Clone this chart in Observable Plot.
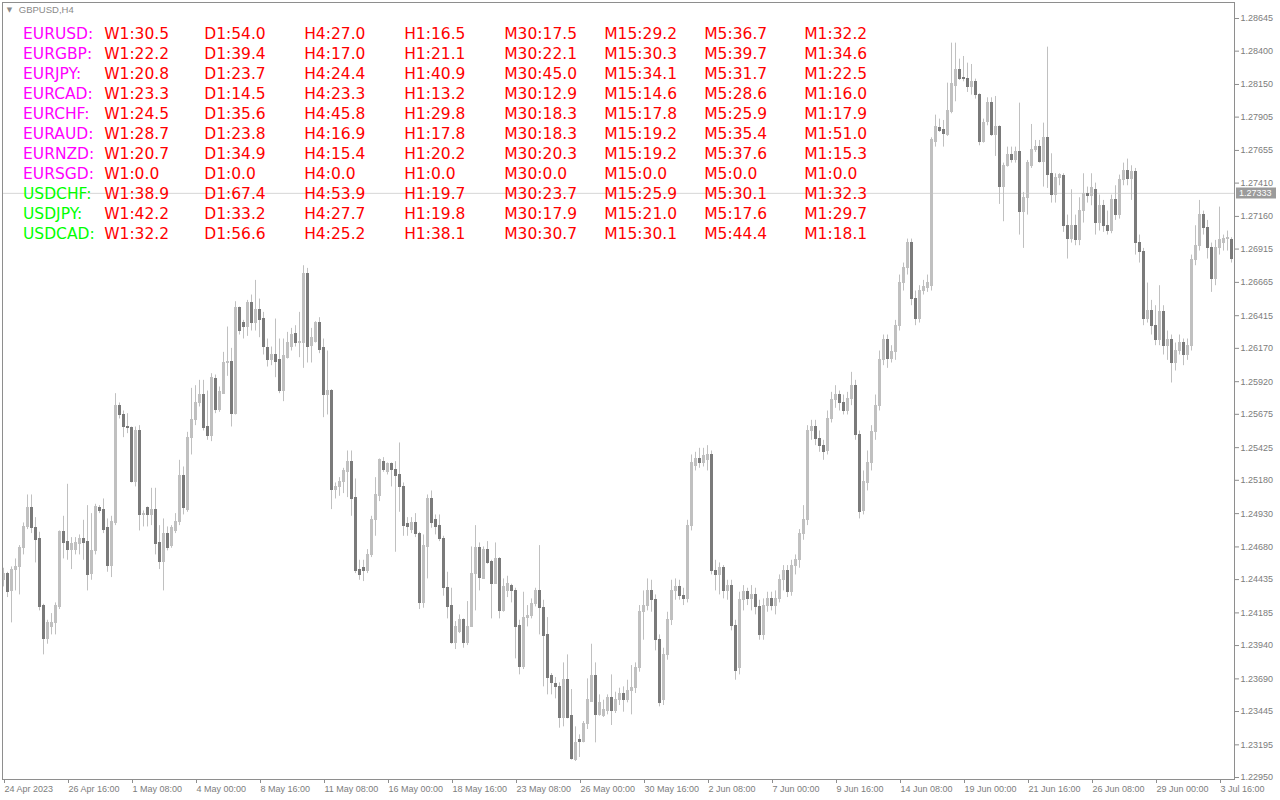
<!DOCTYPE html>
<html>
<head>
<meta charset="utf-8">
<script src="https://cdn.jsdelivr.net/npm/d3@7"></script>
<script src="https://cdn.jsdelivr.net/npm/@observablehq/plot@0.6"></script>
<style>
  html, body { margin: 0; padding: 0; background: #ffffff; }
  #chart { width: 1280px; height: 800px; position: relative; }
</style>
</head>
<body>
<div id="chart"></div>
<script>
// ---------- chart meta ----------
const symbolLabel = "GBPUSD,H4";
const lastPrice = 1.27333;
const xLabels = ["24 Apr 2023","26 Apr 16:00","1 May 08:00","4 May 00:00","8 May 16:00","11 May 08:00","16 May 00:00","18 May 16:00","23 May 08:00","26 May 00:00","30 May 16:00","2 Jun 08:00","7 Jun 00:00","9 Jun 16:00","14 Jun 08:00","19 Jun 00:00","21 Jun 16:00","26 Jun 08:00","29 Jun 00:00","3 Jul 16:00"];
const barsPerLabel = 16;
const yTicks = [1.28645,1.28400,1.28150,1.27905,1.27655,1.27410,1.27160,1.26915,1.26665,1.26415,1.26170,1.25920,1.25675,1.25425,1.25180,1.24930,1.24680,1.24435,1.24185,1.23940,1.23690,1.23445,1.23195,1.22950];

// ---------- candles (H4 bars) ----------
const open = [
1.2443,1.2448,1.2435,1.2451,1.2453,1.2467,1.2483,1.2497,1.2482,1.2474,
1.2424,1.2399,1.2408,1.2411,1.2423,1.2479,1.2472,1.2466,1.2466,1.2470,
1.2474,1.2472,1.2448,1.2465,1.2497,1.2496,1.2482,1.2454,1.2486,1.2574,
1.2567,1.2558,1.2557,1.2517,1.2555,1.2492,1.2497,1.2492,1.2496,1.2471,
1.2457,1.2478,1.2469,1.2480,1.2487,1.2521,1.2496,1.2550,1.2563,1.2576,
1.2582,1.2558,1.2551,1.2594,1.2571,1.2583,1.2606,1.2607,1.2568,1.2647,
1.2636,1.2633,1.2651,1.2636,1.2646,1.2639,1.2617,1.2608,1.2612,1.2608,
1.2585,1.2610,1.2618,1.2628,1.2621,1.2621,1.2673,1.2619,1.2622,1.2636,
1.2617,1.2582,1.2585,1.2511,1.2513,1.2517,1.2524,1.2532,1.2505,1.2451,
1.2452,1.2450,1.2462,1.2488,1.2506,1.2532,1.2524,1.2530,1.2526,1.2522,
1.2513,1.2485,1.2481,1.2486,1.2478,1.2426,1.2468,1.2504,1.2488,1.2484,
1.2474,1.2437,1.2424,1.2396,1.2404,1.2413,1.2396,1.2408,1.2448,1.2467,
1.2444,1.2466,1.2457,1.2440,1.2459,1.2420,1.2435,1.2439,1.2435,1.2409,
1.2378,1.2415,1.2416,1.2425,1.2435,1.2422,1.2402,1.2371,1.2365,1.2363,
1.2340,1.2368,1.2341,1.2308,1.2323,1.2322,1.2335,1.2352,1.2371,1.2342,
1.2341,1.2345,1.2355,1.2345,1.2353,1.2358,1.2353,1.2360,1.2362,1.2377,
1.2419,1.2424,1.2435,1.2428,1.2398,1.2353,1.2387,1.2413,1.2435,1.2438,
1.2431,1.2429,1.2484,1.2529,1.2534,1.2531,1.2533,1.2537,1.2450,1.2447,
1.2452,1.2435,1.2439,1.2409,1.2377,1.2428,1.2434,1.2429,1.2432,1.2423,
1.2402,1.2424,1.2429,1.2424,1.2429,1.2443,1.2450,1.2434,1.2454,1.2458,
1.2478,1.2488,1.2555,1.2558,1.2549,1.2544,1.2540,1.2564,1.2578,1.2582,
1.2576,1.2570,1.2579,1.2589,1.2552,1.2495,1.2516,1.2531,1.2554,1.2574,
1.2608,1.2623,1.2609,1.2614,1.2634,1.2666,1.2677,1.2696,1.2654,1.2639,
1.2660,1.2662,1.2664,1.2772,1.2782,1.2781,1.2777,1.2794,1.2814,1.2826,
1.2820,1.2819,1.2813,1.2817,1.2807,1.2772,1.2787,1.2801,1.2777,1.2783,
1.2738,1.2754,1.2762,1.2758,1.2764,1.2719,1.2730,1.2754,1.2766,1.2768,
1.2757,1.2775,1.2748,1.2732,1.2745,1.2746,1.2709,1.2699,1.2709,1.2698,
1.2720,1.2733,1.2731,1.2736,1.2711,1.2724,1.2709,1.2705,1.2728,1.2717,
1.2743,1.2750,1.2744,1.2749,1.2696,1.2689,1.2639,1.2645,1.2634,1.2623,
1.2644,1.2619,1.2623,1.2606,1.2615,1.2621,1.2612,1.2619,1.2683,1.2694,
1.2717,1.2707,1.2692,1.2669,1.2692,1.2696,1.2699,1.2698];

const high = [
1.2452,1.2449,1.2453,1.2459,1.2469,1.2486,1.2507,1.2507,1.2490,1.2479,
1.2425,1.2413,1.2418,1.2426,1.2480,1.2491,1.2515,1.2475,1.2475,1.2477,
1.2488,1.2499,1.2493,1.2500,1.2499,1.2504,1.2489,1.2491,1.2583,1.2576,
1.2570,1.2568,1.2558,1.2558,1.2559,1.2495,1.2498,1.2512,1.2512,1.2484,
1.2489,1.2483,1.2484,1.2493,1.2533,1.2528,1.2554,1.2587,1.2589,1.2593,
1.2593,1.2585,1.2598,1.2597,1.2588,1.2614,1.2633,1.2617,1.2652,1.2648,
1.2638,1.2653,1.2657,1.2668,1.2654,1.2644,1.2624,1.2618,1.2639,1.2624,
1.2624,1.2629,1.2632,1.2634,1.2644,1.2679,1.2677,1.2632,1.2637,1.2640,
1.2624,1.2615,1.2586,1.2516,1.2520,1.2527,1.2540,1.2540,1.2519,1.2458,
1.2458,1.2466,1.2491,1.2520,1.2534,1.2535,1.2531,1.2531,1.2532,1.2546,
1.2516,1.2490,1.2490,1.2493,1.2479,1.2477,1.2507,1.2510,1.2492,1.2492,
1.2476,1.2449,1.2437,1.2412,1.2417,1.2414,1.2427,1.2468,1.2484,1.2471,
1.2468,1.2472,1.2458,1.2471,1.2460,1.2444,1.2446,1.2440,1.2437,1.2413,
1.2434,1.2424,1.2429,1.2437,1.2469,1.2428,1.2415,1.2373,1.2370,1.2366,
1.2381,1.2387,1.2361,1.2333,1.2327,1.2337,1.2369,1.2395,1.2381,1.2357,
1.2353,1.2357,1.2372,1.2359,1.2362,1.2363,1.2368,1.2379,1.2381,1.2424,
1.2435,1.2444,1.2443,1.2432,1.2402,1.2392,1.2419,1.2443,1.2444,1.2443,
1.2437,1.2488,1.2537,1.2539,1.2542,1.2542,1.2544,1.2540,1.2458,1.2456,
1.2454,1.2443,1.2443,1.2413,1.2434,1.2439,1.2437,1.2439,1.2437,1.2428,
1.2429,1.2434,1.2434,1.2435,1.2447,1.2454,1.2454,1.2458,1.2462,1.2481,
1.2499,1.2559,1.2563,1.2563,1.2555,1.2548,1.2570,1.2584,1.2589,1.2585,
1.2582,1.2584,1.2599,1.2593,1.2555,1.2525,1.2540,1.2559,1.2582,1.2615,
1.2627,1.2627,1.2619,1.2638,1.2672,1.2681,1.2699,1.2699,1.2660,1.2664,
1.2668,1.2672,1.2775,1.2792,1.2789,1.2788,1.2816,1.2846,1.2846,1.2834,
1.2836,1.2831,1.2830,1.2819,1.2808,1.2789,1.2805,1.2805,1.2806,1.2784,
1.2756,1.2768,1.2768,1.2768,1.2801,1.2734,1.2758,1.2785,1.2773,1.2773,
1.2786,1.2843,1.2763,1.2748,1.2748,1.2748,1.2717,1.2736,1.2717,1.2730,
1.2748,1.2738,1.2748,1.2741,1.2732,1.2728,1.2720,1.2732,1.2739,1.2747,
1.2756,1.2759,1.2754,1.2752,1.2702,1.2692,1.2666,1.2653,1.2649,1.2664,
1.2649,1.2630,1.2627,1.2621,1.2627,1.2624,1.2624,1.2687,1.2709,1.2728,
1.2720,1.2713,1.2696,1.2698,1.2723,1.2702,1.2705,1.2700];

const low = [
1.2438,1.2430,1.2411,1.2435,1.2432,1.2462,1.2481,1.2478,1.2456,1.2420,
1.2387,1.2395,1.2402,1.2402,1.2421,1.2459,1.2458,1.2451,1.2462,1.2462,
1.2458,1.2435,1.2443,1.2462,1.2493,1.2478,1.2449,1.2445,1.2484,1.2564,
1.2550,1.2553,1.2516,1.2513,1.2480,1.2483,1.2483,1.2484,1.2462,1.2451,
1.2435,1.2465,1.2467,1.2478,1.2484,1.2492,1.2494,1.2537,1.2559,1.2573,
1.2555,1.2548,1.2547,1.2568,1.2569,1.2583,1.2596,1.2558,1.2567,1.2627,
1.2624,1.2626,1.2630,1.2630,1.2625,1.2612,1.2603,1.2604,1.2595,1.2583,
1.2577,1.2609,1.2615,1.2618,1.2610,1.2602,1.2606,1.2606,1.2621,1.2613,
1.2565,1.2567,1.2496,1.2504,1.2506,1.2508,1.2505,1.2491,1.2448,1.2443,
1.2442,1.2448,1.2460,1.2476,1.2502,1.2524,1.2522,1.2513,1.2464,1.2494,
1.2476,1.2476,1.2478,1.2475,1.2421,1.2422,1.2444,1.2482,1.2477,1.2472,
1.2431,1.2414,1.2395,1.2391,1.2403,1.2392,1.2394,1.2408,1.2420,1.2435,
1.2444,1.2455,1.2414,1.2440,1.2414,1.2419,1.2430,1.2426,1.2384,1.2372,
1.2376,1.2408,1.2414,1.2423,1.2402,1.2363,1.2357,1.2357,1.2354,1.2332,
1.2333,1.2339,1.2308,1.2307,1.2310,1.2321,1.2331,1.2352,1.2321,1.2341,
1.2340,1.2342,1.2334,1.2343,1.2349,1.2344,1.2351,1.2342,1.2358,1.2374,
1.2398,1.2420,1.2419,1.2390,1.2348,1.2349,1.2383,1.2409,1.2428,1.2428,
1.2424,1.2426,1.2480,1.2525,1.2527,1.2528,1.2525,1.2447,1.2435,1.2432,
1.2429,1.2428,1.2405,1.2368,1.2372,1.2420,1.2424,1.2420,1.2417,1.2398,
1.2398,1.2419,1.2420,1.2417,1.2426,1.2435,1.2430,1.2431,1.2447,1.2452,
1.2473,1.2484,1.2548,1.2544,1.2539,1.2533,1.2537,1.2561,1.2572,1.2570,
1.2567,1.2567,1.2574,1.2548,1.2489,1.2492,1.2510,1.2525,1.2548,1.2570,
1.2604,1.2602,1.2606,1.2608,1.2630,1.2660,1.2672,1.2649,1.2634,1.2636,
1.2657,1.2659,1.2660,1.2768,1.2779,1.2768,1.2776,1.2793,1.2802,1.2818,
1.2817,1.2809,1.2807,1.2804,1.2769,1.2771,1.2784,1.2776,1.2761,1.2725,
1.2712,1.2753,1.2756,1.2756,1.2702,1.2692,1.2717,1.2752,1.2764,1.2756,
1.2738,1.2737,1.2726,1.2726,1.2739,1.2704,1.2684,1.2696,1.2694,1.2694,
1.2711,1.2726,1.2724,1.2702,1.2705,1.2704,1.2702,1.2703,1.2713,1.2714,
1.2739,1.2739,1.2728,1.2687,1.2681,1.2634,1.2636,1.2627,1.2619,1.2619,
1.2612,1.2608,1.2591,1.2600,1.2612,1.2604,1.2608,1.2615,1.2679,1.2690,
1.2702,1.2684,1.2659,1.2664,1.2687,1.2690,1.2690,1.2681];

const close = [
1.2448,1.2434,1.2451,1.2453,1.2467,1.2483,1.2497,1.2482,1.2473,1.2423,
1.2399,1.2411,1.2411,1.2424,1.2479,1.2471,1.2466,1.2470,1.2471,1.2474,
1.2471,1.2447,1.2465,1.2498,1.2495,1.2481,1.2454,1.2487,1.2574,1.2567,
1.2558,1.2557,1.2517,1.2555,1.2492,1.2493,1.2492,1.2496,1.2470,1.2457,
1.2478,1.2467,1.2482,1.2487,1.2521,1.2497,1.2550,1.2563,1.2576,1.2582,
1.2557,1.2551,1.2595,1.2571,1.2584,1.2606,1.2607,1.2568,1.2647,1.2630,
1.2633,1.2651,1.2636,1.2646,1.2638,1.2618,1.2608,1.2612,1.2607,1.2585,
1.2611,1.2621,1.2627,1.2621,1.2622,1.2673,1.2618,1.2625,1.2636,1.2616,
1.2582,1.2585,1.2511,1.2513,1.2517,1.2525,1.2532,1.2504,1.2450,1.2447,
1.2450,1.2462,1.2488,1.2507,1.2533,1.2526,1.2530,1.2526,1.2521,1.2513,
1.2484,1.2483,1.2486,1.2478,1.2426,1.2469,1.2504,1.2486,1.2483,1.2474,
1.2437,1.2423,1.2396,1.2408,1.2413,1.2396,1.2408,1.2448,1.2467,1.2445,
1.2466,1.2456,1.2440,1.2459,1.2420,1.2438,1.2440,1.2435,1.2408,1.2378,
1.2415,1.2416,1.2425,1.2435,1.2422,1.2401,1.2370,1.2366,1.2363,1.2340,
1.2368,1.2340,1.2309,1.2321,1.2322,1.2335,1.2353,1.2371,1.2342,1.2351,
1.2346,1.2355,1.2345,1.2353,1.2358,1.2353,1.2360,1.2362,1.2377,1.2419,
1.2424,1.2435,1.2428,1.2398,1.2351,1.2387,1.2413,1.2435,1.2438,1.2431,
1.2429,1.2484,1.2531,1.2534,1.2531,1.2536,1.2537,1.2450,1.2447,1.2452,
1.2435,1.2439,1.2409,1.2375,1.2428,1.2434,1.2429,1.2432,1.2423,1.2402,
1.2424,1.2429,1.2424,1.2429,1.2443,1.2450,1.2434,1.2454,1.2458,1.2478,
1.2488,1.2555,1.2558,1.2549,1.2544,1.2539,1.2564,1.2578,1.2582,1.2576,
1.2570,1.2579,1.2589,1.2552,1.2494,1.2517,1.2531,1.2554,1.2574,1.2608,
1.2623,1.2609,1.2614,1.2634,1.2666,1.2677,1.2696,1.2654,1.2639,1.2660,
1.2663,1.2666,1.2773,1.2783,1.2780,1.2778,1.2795,1.2815,1.2826,1.2819,
1.2819,1.2813,1.2817,1.2807,1.2772,1.2786,1.2801,1.2777,1.2783,1.2738,
1.2754,1.2762,1.2758,1.2764,1.2719,1.2730,1.2756,1.2766,1.2768,1.2757,
1.2775,1.2747,1.2732,1.2745,1.2747,1.2709,1.2699,1.2709,1.2698,1.2720,
1.2733,1.2731,1.2737,1.2711,1.2724,1.2709,1.2705,1.2728,1.2717,1.2743,
1.2750,1.2744,1.2749,1.2696,1.2689,1.2639,1.2645,1.2634,1.2623,1.2644,
1.2619,1.2623,1.2606,1.2615,1.2621,1.2612,1.2619,1.2683,1.2694,1.2717,
1.2707,1.2692,1.2669,1.2692,1.2698,1.2699,1.2700,1.2684];

// ---------- strength table ----------
const pairs = ["EURUSD","EURGBP","EURJPY","EURCAD","EURCHF","EURAUD","EURNZD","EURSGD","USDCHF","USDJPY","USDCAD"];
const timeframes = ["W1","D1","H4","H1","M30","M15","M5","M1"];
const valW1  = [30.5,22.2,20.8,23.3,24.5,28.7,20.7,0.0,38.9,42.2,32.2];
const valD1  = [54.0,39.4,23.7,14.5,35.6,23.8,34.9,0.0,67.4,33.2,56.6];
const valH4  = [27.0,17.0,24.4,23.3,45.8,16.9,15.4,0.0,53.9,27.7,25.2];
const valH1  = [16.5,21.1,40.9,13.2,29.8,17.8,20.2,0.0,19.7,19.8,38.1];
const valM30 = [17.5,22.1,45.0,12.9,18.3,18.3,20.3,0.0,23.7,17.9,30.7];
const valM15 = [29.2,30.3,34.1,14.6,17.8,19.2,19.2,0.0,25.9,21.0,30.1];
const valM5  = [36.7,39.7,31.7,28.6,25.9,35.4,37.6,0.0,30.1,17.6,44.4];
const valM1  = [32.2,34.6,22.5,16.0,17.9,51.0,15.3,0.0,32.3,29.7,18.1];

// ---------- build ----------
const n = open.length;
if (high.length !== n || low.length !== n || close.length !== n) {
  throw new Error(`length mismatch o${open.length} h${high.length} l${low.length} c${close.length}`);
}
const candles = open.map((o, i) => ({i, o, h: high[i], l: low[i], c: close[i], up: close[i] >= o}));
const xTickBars = xLabels.map((_, k) => k * barsPerLabel);
const columns = [valW1, valD1, valH4, valH1, valM30, valM15, valM5, valM1];
const eurPairs = pairs.filter(p => p.startsWith("EUR"));
const usdPairs = pairs.filter(p => p.startsWith("USD"));

const W = 1280, H = 800;
const mLeft = 2, mRight = 46, mTop = 2, mBottom = 21;
const barStep = 4;

const tableFontSize = 15.5;
const rowH = 20;
const tableText = {
  frameAnchor: "top-left", textAnchor: "start", lineAnchor: "top",
  fontFamily: "DejaVu Sans", fontSize: tableFontSize, lineHeight: rowH / tableFontSize, text: d => d
};
const rowTop = 22;

const marks = [
  Plot.ruleY([lastPrice], {stroke: "#d6d6d6"}),
  Plot.ruleX(candles, {x: "i", y1: "l", y2: "h", stroke: "#c0c0c0", strokeWidth: 1}),
  Plot.rect(candles, {
    x1: d => d.i - 0.375, x2: d => d.i + 0.375, y1: "o", y2: "c", dx: 0.5,
    insetTop: -0.5, insetBottom: -0.5,
    fill: d => d.up ? "#c0c0c0" : "#7a7a7a", shapeRendering: "crispEdges"
  }),
  Plot.frame({stroke: "#8e8e8e"}),
  // title
  Plot.text(["\u25BC"], {text: d => d, frameAnchor: "top-left", dx: 7, dy: 7.5, textAnchor: "middle", lineAnchor: "middle", fontSize: 7, fill: "#8a8a8a", fontFamily: "DejaVu Sans"}),
  Plot.text([symbolLabel], {text: d => d, frameAnchor: "top-left", dx: 16.3, dy: 4, textAnchor: "start", lineAnchor: "top", fontSize: 9.5, fill: "#8a8a8a", fontFamily: "Liberation Sans"}),
  // pair names
  Plot.text([eurPairs.map(p => p + ":").join("\n")], {...tableText, dx: 20.5, dy: rowTop, fill: "#ff00ff"}),
  Plot.text([usdPairs.map(p => p + ":").join("\n")], {...tableText, dx: 20.5, dy: rowTop + eurPairs.length * rowH, fill: "#00ff00"}),
  // strength values
  ...timeframes.map((tf, k) => Plot.text(
    [columns[k].map(v => `${tf}:${v.toFixed(1)}`).join("\n")],
    {...tableText, dx: 101.7 + 100 * k, dy: rowTop, fill: "#ff0000"}
  )),
  // axes
  Plot.axisY(yTicks, {anchor: "right", tickFormat: d3.format(".5f"), tickSize: 4, tickPadding: 2, label: null, fontSize: 9, fill: "#7c7c7c", stroke: "#8e8e8e"}),
  Plot.axisX(xTickBars, {anchor: "bottom", tickFormat: d => xLabels[xTickBars.indexOf(d)], textAnchor: "start", dx: 1, tickSize: 4, tickPadding: 2, label: null, fontSize: 9, fill: "#7c7c7c", stroke: "#8e8e8e"})
];

const chart = Plot.plot({
  width: W, height: H,
  marginLeft: mLeft, marginRight: mRight, marginTop: mTop, marginBottom: mBottom,
  style: {fontFamily: "Liberation Sans", fontSize: "9px", color: "#7c7c7c", background: "#ffffff", overflow: "visible"},
  x: {type: "linear", domain: [0, n - 1], range: [3, 3 + barStep * (n - 1)], label: null},
  y: {type: "linear", domain: [1.2295, 1.28645], range: [777, 18], label: null},
  marks
});
document.getElementById("chart").appendChild(chart);

// last-price tag on the price axis, positioned with the plot's own y scale
const yPix = chart.scale("y").apply(lastPrice);
const svg = d3.select(chart.tagName.toLowerCase() === "svg" ? chart : chart.querySelector("svg"));
const tag = svg.append("g").attr("class", "last-price-tag");
tag.append("rect")
  .attr("x", W - mRight + 2).attr("y", Math.round(yPix) - 5.5)
  .attr("width", 40).attr("height", 11)
  .attr("fill", "#9b9b9b");
tag.append("text")
  .attr("x", W - mRight + 5).attr("y", Math.round(yPix))
  .attr("dy", "0.34em")
  .attr("text-anchor", "start")
  .attr("fill", "#ffffff")
  .attr("font-family", "Liberation Sans")
  .attr("font-size", 9)
  .text(d3.format(".5f")(lastPrice));
</script>
</body>
</html>
